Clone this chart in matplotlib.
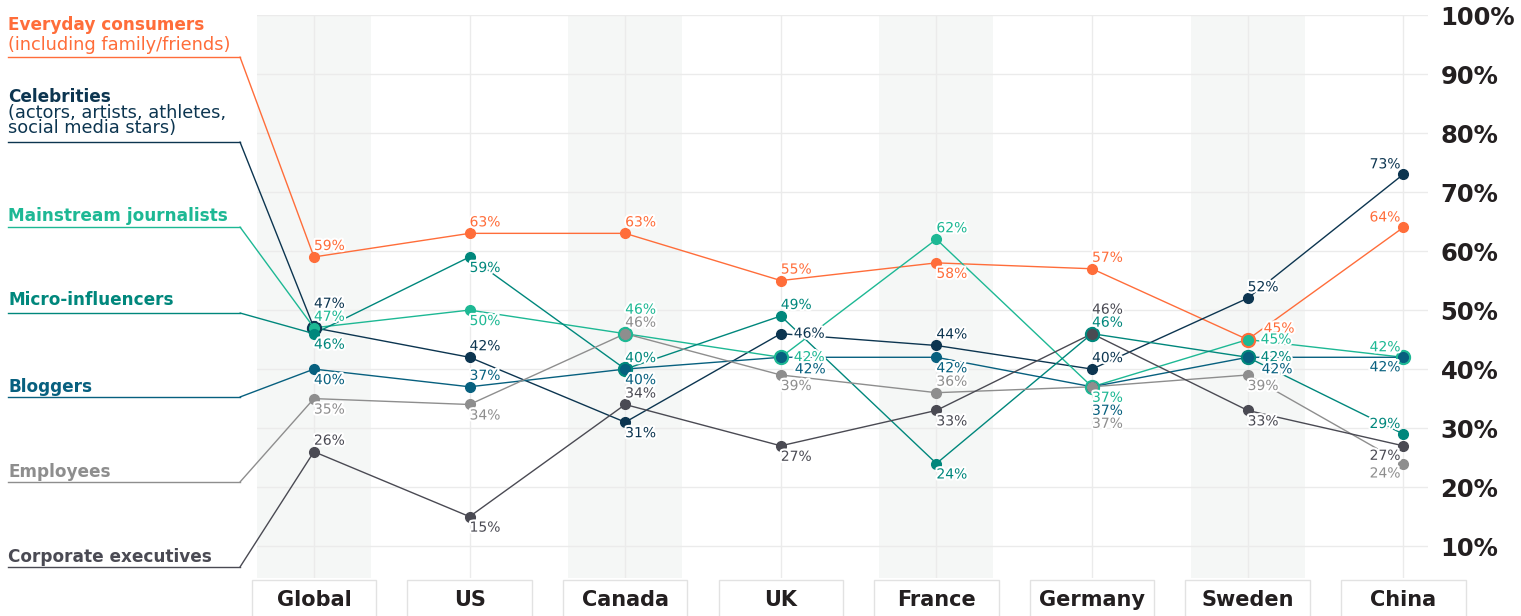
import matplotlib.pyplot as plt
import matplotlib.patheffects as pe
import matplotlib.transforms as mtransforms
from matplotlib.patches import Rectangle
from matplotlib.lines import Line2D

countries = ['Global', 'US', 'Canada', 'UK', 'France', 'Germany', 'Sweden', 'China']

consumers = [59, 63, 63, 55, 58, 57, 45, 64]
celebrities = [47, 42, 31, 46, 44, 40, 52, 73]
journalists = [47, 50, 46, 42, 62, 37, 45, 42]
micro_influencers = [46, 59, 40, 49, 24, 46, 42, 29]
bloggers = [40, 37, 40, 42, 42, 37, 42, 42]
employees = [35, 34, 46, 39, 36, 37, 39, 24]
executives = [26, 15, 34, 27, 33, 46, 33, 27]

yticks = [10, 20, 30, 40, 50, 60, 70, 80, 90, 100]

# label titles (bold first line, then regular lines)
titles = [
    ('Everyday consumers', ['(including family/friends)']),
    ('Celebrities', ['(actors, artists, athletes,', 'social media stars)']),
    ('Mainstream journalists', []),
    ('Micro-influencers', []),
    ('Bloggers', []),
    ('Employees', []),
    ('Corporate executives', []),
]
values = [consumers, celebrities, journalists, micro_influencers, bloggers, employees, executives]
colors = ['#FF6D3A', '#0C3550', '#1DB894', '#00877C', '#07607F', '#8E8E8E', '#4A4A53']

# where each data label sits relative to its dot
label_pos = [
    ['a', 'a', 'a', 'a', 'b', 'a', 'ra', 'la'],
    ['a2', 'a', 'b', 'r', 'a', 'a', 'a', 'la'],
    ['a', 'b', 'a2', 'r', 'a', 'b', 'r', 'la'],
    ['b', 'b', 'a', 'a', 'b', 'a', 'r', 'la'],
    ['b', 'a', 'b', 'rb', 'b', 'b2', 'rb', 'lb'],
    ['b', 'b', 'a', 'b', 'a', 'b3', 'b', 'lb'],
    ['a', 'b', 'a', 'b', 'b', 'a2', 'b', 'lb'],
]
offsets = {  # dx px, dy px, ha
    'a': (0, 11, 'left'), 'a2': (0, 24, 'left'),
    'b': (0, -11, 'left'), 'b2': (0, -24, 'left'), 'b3': (0, -37, 'left'),
    'r': (13, 0, 'left'), 'ra': (16, 11, 'left'), 'rb': (14, -12, 'left'),
    'la': (-3, 10, 'right'), 'lb': (-3, -10, 'right'),
}
# baselines of legend text lines and underline, in pixels from the top
title_y = [(30, [50], 57), (102, [118, 133], 142), (221, [], 227), (305, [], 313),
           (392, [], 397), (477, [], 482), (562, [], 567)]

W, H = 1521, 616
fig = plt.figure(figsize=(W / 100, H / 100), dpi=100)
ax = fig.add_axes([257 / W, 1 - 578 / H, (1428 - 257) / W, (578 - 15) / H])
x = list(range(len(countries)))
ax.set_xlim(-0.366, 7.159)
ax.set_ylim(4.6, 100)

# background columns and grid
for i in x:
    if i % 2 == 0:
        ax.axvspan(i - 0.366, i + 0.366, color='#f5f7f6', lw=0, zorder=0)
    ax.axvline(i, color='#ebebeb', lw=1, zorder=0.5)
for t in yticks:
    ax.axhline(t, color='#ebebeb', lw=1, zorder=0.5)

# bigger dot under points shared by several series
for i in x:
    seen = {}
    for k, v in enumerate(values):
        seen.setdefault(v[i], []).append(k)
    for val, ks in seen.items():
        if len(ks) > 1:
            ax.plot(i, val, 'o', ms=10, color=colors[ks[0]], zorder=3)

for k, v in enumerate(values):
    ax.plot(x, v, '-', color=colors[k], lw=1.0, zorder=2)
    ax.plot(x, v, 'o', ms=7, color=colors[k], zorder=4)
    for i, val in enumerate(v):
        dx, dy, ha = offsets[label_pos[k][i]]
        ax.annotate(f'{val}%', (i, val), xytext=(dx * 0.72, dy * 0.72), textcoords='offset points',
                    ha=ha, va='center', fontsize=10, color=colors[k], zorder=5,
                    path_effects=[pe.withStroke(linewidth=3, foreground='white')])

for s in ax.spines.values():
    s.set_visible(False)
ax.set_xticks([])
ax.yaxis.tick_right()
ax.set_yticks(yticks)
ax.set_yticklabels([f'{t}%' for t in yticks], fontsize=17.5, fontweight='bold', color='#231f20')
ax.tick_params(axis='y', length=0, pad=9)

# country boxes
trans = mtransforms.blended_transform_factory(ax.transData, ax.transAxes)
for i, c in enumerate(countries):
    ax.add_patch(Rectangle((i - 0.4, -0.1), 0.8, 0.0965, transform=trans, fc='white',
                           ec='#e2e2e2', lw=1, clip_on=False, zorder=1))
    ax.text(i, -0.039, c, transform=trans, ha='center', va='center', fontsize=15,
            fontweight='bold', color='#231f20', clip_on=False)

# left side labels with leader lines
for k, (bold, rest) in enumerate(titles):
    yb, ys, yu = title_y[k]
    fig.text(8 / W, 1 - yb / H, bold, ha='left', va='baseline', fontsize=12.2,
             fontweight='bold', color=colors[k])
    for line, yy in zip(rest, ys):
        fig.text(8 / W, 1 - yy / H, line, ha='left', va='baseline', fontsize=12.8, color=colors[k])
    fig.add_artist(Line2D([8 / W, 240 / W], [1 - yu / H, 1 - yu / H], color=colors[k], lw=1))
    ax.annotate('', xy=(0, values[k][0]), xycoords='data', xytext=(240 / W, 1 - yu / H),
                textcoords='figure fraction', annotation_clip=False,
                arrowprops=dict(arrowstyle='-', color=colors[k], lw=1, shrinkA=0, shrinkB=0))

fig.savefig('out.png', dpi=100)
